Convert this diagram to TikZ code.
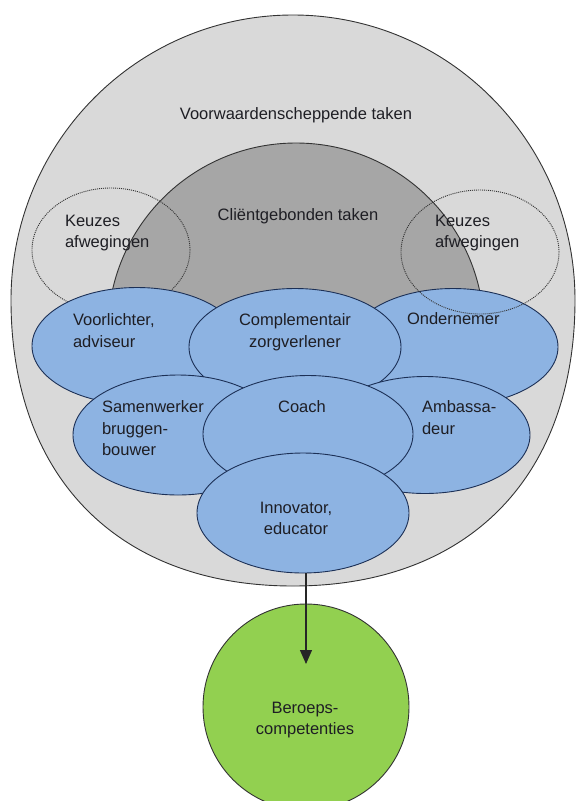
\documentclass[tikz,border=0pt]{standalone}
\usepackage{fontspec}
\setmainfont{Liberation Sans}
\usepackage{xcolor}
\usepackage{tikz}
\usetikzlibrary{shapes.geometric,arrows.meta}

\definecolor{buitengrijs}{RGB}{217,217,217}
\definecolor{kerngrijs}{RGB}{166,166,166}
\definecolor{rolblauw}{RGB}{141,179,226}
\definecolor{rolrand}{RGB}{28,48,86}
\definecolor{groen}{RGB}{146,208,80}
\definecolor{tekstkleur}{RGB}{30,30,36}

\begin{document}
\begin{tikzpicture}[x=1pt,y=-1pt,
  every node/.style={inner sep=0pt,outer sep=0pt,font=\fontsize{16.5}{21.5}\selectfont,text=tekstkleur},
  rol/.style={ellipse,draw=rolrand,line width=0.9pt,fill=rolblauw,minimum width=2*\RX,minimum height=2*\RY},
  keuze/.style={ellipse,draw=black!80,line width=0.9pt,dash pattern=on 1pt off 1pt,minimum width=158,minimum height=124}]

\useasboundingbox (0,0) rectangle (576,801);

\pgfmathsetmacro{\RX}{105}
\pgfmathsetmacro{\RY}{58.5}



% outer circle (a little fuller towards the bottom)
\draw[draw=black!80,line width=0.9pt,fill=buitengrijs] (11,300) .. controls (11,143) and (137,15) .. (293,15)
  .. controls (449,15) and (575,143) .. (575,300)
  .. controls (575,477) and (468,586) .. (293,586)
  .. controls (118,586) and (11,477) .. cycle;
\draw (296,108) node (tvoorwaarden) [anchor=north] {Voorwaardenscheppende taken};

% inner dome
\draw (296,331) node (client) [circle,draw=black!80,line width=0.9pt,fill=kerngrijs,minimum size=376] {};
\draw (298,209) node (tclient) [anchor=north] {Cli\"entgebonden taken};

% left choices
\draw (111,250) node (keuzelinks) [keuze] {};
\draw (65,215) node (tkeuzelinks) [anchor=north west,align=left] {Keuzes\\afwegingen};

% roles, back row
\draw (137,346) node (voorlichter) [rol] {};
\draw (453,347) node (ondernemer) [rol] {};

% right choices (over the role)
\draw (480,252) node (keuzerechts) [keuze] {};
\draw (435,215) node (tkeuzerechts) [anchor=north west,align=left] {Keuzes\\afwegingen};

% roles, front
\draw (295,347) node (complementair) [rol,minimum width=212] {};
\draw (178,435) node (samenwerker) [rol,minimum height=120] {};
\draw (425,435) node (ambassadeur) [rol] {};
\draw (308,434) node (coach) [rol] {};
\draw (303,513) node (innovator) [rol,minimum width=212,minimum height=120] {};

% role texts
\draw (73,314) node (tvoorlichter) [anchor=north west,align=left] {Voorlichter,\\adviseur};
\draw (295,314) node (tcomplementair) [anchor=north,align=center] {Complementair\\zorgverlener};
\draw (407,313) node (tondernemer) [anchor=north west] {Ondernemer};
\draw (102,401) node (tsamenwerker) [anchor=north west,align=left] {Samenwerker\\bruggen-\\bouwer};
\draw (302,401) node (tcoach) [anchor=north] {Coach};
\draw (422,401) node (tambassadeur) [anchor=north west,align=left] {Ambassa-\\deur};
\draw (296,502) node (tinnovator) [anchor=north,align=center] {Innovator,\\educator};

% competencies
\draw (306,707) node (competenties) [circle,draw=black!80,line width=0.9pt,fill=groen,minimum size=206] {};
\draw (305,702) node (tcompetenties) [anchor=north,align=center] {Beroeps-\\competenties};
\coordinate (tip) at (306,664);
\draw[->,>={Triangle[length=14pt,width=12pt]},line width=1.2pt,black!85] (innovator.south -| tip)--(tip);
\end{tikzpicture}
\end{document}
